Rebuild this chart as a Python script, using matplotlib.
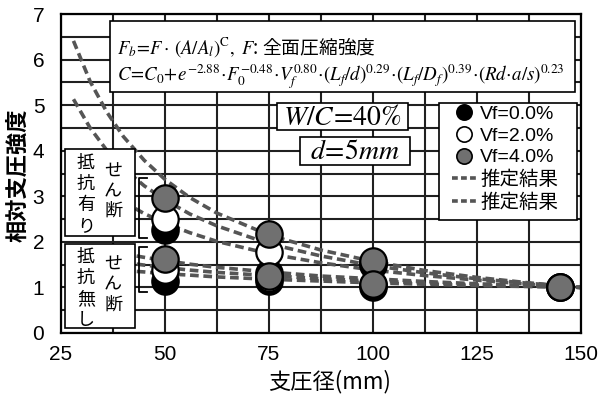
import numpy as np
import matplotlib
matplotlib.use("Agg")
import matplotlib.pyplot as plt
from matplotlib.lines import Line2D
from matplotlib.patches import Rectangle

plt.rcParams['mathtext.fontset'] = 'stix'

JP = ['Noto Sans CJK JP', 'DejaVu Sans']
NUM = ['Liberation Sans Narrow', 'Liberation Sans', 'DejaVu Sans']
LAT = ['Liberation Sans', 'Noto Sans CJK JP', 'DejaVu Sans']

# measured relative bearing strength (upper/lower group per bearing diameter)
bearing_d = [50, 50, 75, 75, 100, 100, 145]
vf0 = [2.25, 1.15, 1.32, 1.15, 1.50, 1.02, 1.00]
vf2 = [2.50, 1.38, 1.78, 1.20, 1.53, 1.05, 1.00]
vf4 = [2.96, 1.63, 2.18, 1.26, 1.57, 1.08, 1.02]

# estimated curves, with shear resistance
est_x_hi = [28, 32, 36, 40, 45, 50, 56, 62.5, 75, 87.5, 100, 112.5, 125, 137.5, 150]
est_hi_a = [6.41, 5.52, 4.85, 4.31, 3.79, 3.37, 2.97, 2.63, 2.15, 1.82, 1.57, 1.37, 1.22, 1.10, 1.00]
est_hi_b = [5.13, 4.50, 4.01, 3.62, 3.23, 2.92, 2.61, 2.35, 1.96, 1.69, 1.48, 1.32, 1.19, 1.09, 1.00]
est_hi_c = [3.83, 3.44, 3.13, 2.88, 2.62, 2.41, 2.20, 2.01, 1.74, 1.54, 1.38, 1.26, 1.16, 1.07, 1.00]

# estimated curves, without shear resistance
est_x_lo = [40, 45, 50, 56, 62.5, 75, 87.5, 100, 112.5, 125, 137.5, 150]
est_lo_a = [1.74, 1.66, 1.59, 1.51, 1.44, 1.34, 1.25, 1.19, 1.13, 1.08, 1.04, 1.00]
est_lo_b = [1.55, 1.49, 1.44, 1.38, 1.33, 1.26, 1.19, 1.14, 1.10, 1.06, 1.03, 1.00]
est_lo_c = [1.37, 1.34, 1.30, 1.27, 1.23, 1.18, 1.14, 1.10, 1.07, 1.04, 1.02, 1.00]

x_ticks = [25, 50, 75, 100, 125, 150]
y_ticks = [0, 1, 2, 3, 4, 5, 6, 7]
x_grid = np.arange(25, 150.1, 12.5)
y_grid = np.arange(0, 7.01, 0.5)

W, H = 599, 394
AX_L, AX_R, AX_T, AX_B = 61, 581, 14, 333

fig = plt.figure(figsize=(W / 100, H / 100), dpi=100)
ax = fig.add_axes([AX_L / W, 1 - AX_B / H, (AX_R - AX_L) / W, (AX_B - AX_T) / H])


def axpos(px, py):
    return (px - AX_L) / (AX_R - AX_L), (AX_B - py) / (AX_B - AX_T)


def box(px0, py0, px1, py1, lw=1.2, z=6):
    x0, y0 = axpos(px0, py1)
    x1, y1 = axpos(px1, py0)
    ax.add_patch(Rectangle((x0, y0), x1 - x0, y1 - y0, transform=ax.transAxes,
                           facecolor='white', edgecolor='black', lw=lw,
                           zorder=z, clip_on=False))


def txt(px, py, s, **kw):
    x, y = axpos(px, py)
    ax.text(x, y, s, transform=ax.transAxes, zorder=7, **kw)


def vtext(px, pys, s, size=13):
    for ch, py in zip(s, pys):
        txt(px, py, ch, ha='center', va='center', family=JP, size=size)


# grid every 12.5 mm / 0.5
ax.vlines(x_grid, 0, 7, colors='#202020', linewidth=1.5, zorder=2.5)
ax.hlines(y_grid, 25, 150, colors='#202020', linewidth=1.5, zorder=2.5)

line_kw = dict(color='#555555', lw=2.6, dashes=(2.4, 1.3), zorder=3)
for ys in (est_hi_a, est_hi_b, est_hi_c):
    ax.plot(est_x_hi, ys, **line_kw)
for ys in (est_lo_a, est_lo_b, est_lo_c):
    ax.plot(est_x_lo, ys, **line_kw)

gray = '#707070'
for ys, fc in ((vf0, 'black'), (vf2, 'white'), (vf4, gray)):
    ax.plot(bearing_d, ys, 'o', ls='none', ms=19, mfc=fc, mec='black',
            mew=1.6, zorder=5)

# brackets
ax.plot([45.7, 43.8, 43.8, 45.7], [3.41, 3.41, 2.09, 2.09], color='black', lw=1.3, zorder=4)
ax.plot([45.7, 43.8, 43.8, 45.7], [1.89, 1.89, 0.90, 0.90], color='black', lw=1.3, zorder=4)

ax.set_xlim(25, 150)
ax.set_ylim(0, 7)
ax.set_xticks(x_ticks)
ax.set_yticks(y_ticks)
ax.tick_params(direction='in', length=5, width=1.3, labelsize=15)
ax.tick_params(axis='x', pad=9)
ax.tick_params(axis='y', pad=12)
for lab in ax.get_xticklabels() + ax.get_yticklabels():
    lab.set_family(NUM)
for sp in ax.spines.values():
    sp.set_linewidth(1.6)
    sp.set_zorder(4)

fig.text(18 / W, 1 - 175 / H, '相対支圧強度', rotation=90, family=JP, size=16,
         weight='bold', ha='center', va='center')
fig.text(330 / W, 1 - 382 / H, '支圧径(mm)', family=JP, size=16,
         ha='center', va='center')

# formula box
box(110, 21, 575, 92)
txt(117, 47, r'$F_b\!=\!F\cdot\,(A/A_l)^{\mathrm{C}},\ F$: 全面圧縮強度',
    family=JP, size=13.5, va='center', ha='left')
txt(117, 77, r'$C\!=\!C_0\!+\!e^{-2.88}\!\cdot\! F_0^{-0.48}\!\cdot\! V_f^{0.80}\!\cdot\!(L_f/d)^{0.29}'
             r'\!\cdot\!(L_f/D_f)^{0.39}\!\cdot\!(Rd\!\cdot\! a/s)^{0.23}$',
    size=13.6, va='center', ha='left')

# condition boxes
box(277, 103, 408, 130)
txt(342, 117, r'$W/C\!=\!40\%$', size=20, ha='center', va='center')
box(300, 137, 410, 165)
txt(355, 151, r'$d\!=\!5mm$', size=20, ha='center', va='center')

# shear resistance labels
box(65, 149, 135, 236)
vtext(86, [163, 184, 205, 226], '抵抗有り')
vtext(113, [172, 191, 211], 'せん断')
box(65, 244, 135, 328)
vtext(86, [257, 278, 299, 320], '抵抗無し')
vtext(113, [265, 284, 305], 'せん断')

# legend (frame drawn separately)
box(439, 103, 577, 220, z=7.5)
handles = [
    Line2D([], [], marker='o', ls='none', ms=11, mfc='black', mec='black', mew=1.2),
    Line2D([], [], marker='o', ls='none', ms=11, mfc='white', mec='black', mew=1.2),
    Line2D([], [], marker='o', ls='none', ms=11, mfc=gray, mec='black', mew=1.2),
    Line2D([], [], color='#555555', lw=2.6, dashes=(1.6, 0.9)),
    Line2D([], [], color='#555555', lw=2.6, dashes=(1.6, 0.9)),
]
labels = ['Vf=0.0%', 'Vf=2.0%', 'Vf=4.0%', '推定結果', '推定結果']
leg = ax.legend(handles, labels, loc='upper left', bbox_to_anchor=axpos(452, 105),
                borderaxespad=0, borderpad=0, labelspacing=0.22, handlelength=1.25,
                handletextpad=0.2, frameon=False, prop={'family': LAT, 'size': 14})
leg.set_zorder(8)

fig.savefig('out.png', dpi=100)
